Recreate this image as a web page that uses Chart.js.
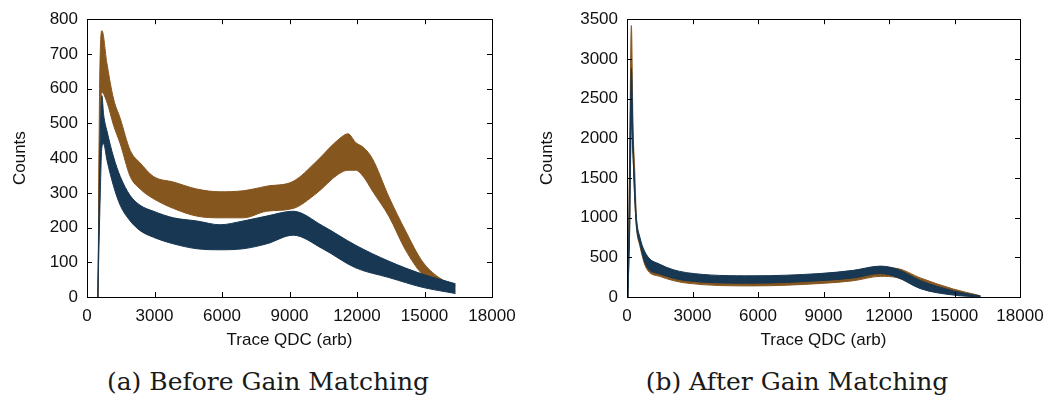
<!DOCTYPE html>
<html>
<head>
<meta charset="utf-8">
<script src="https://cdn.jsdelivr.net/npm/chart.js@4/dist/chart.umd.min.js"></script>
<style>
  body { margin: 0; background: #fff; width: 1055px; height: 404px; position: relative; overflow: hidden; }
  .box { position: absolute; top: 0; height: 360px; }
  .cap { position: absolute; top: 367px; font-family: "DejaVu Serif", serif; font-size: 25px; color: #1a1a1a; white-space: nowrap; transform: translateX(-50%); }
</style>
</head>
<body>
<div class="box" style="left:0;width:527px"><canvas id="before"></canvas></div>
<div class="box" style="left:527px;width:528px"><canvas id="after"></canvas></div>
<div class="cap" style="left:268px">(a) Before Gain Matching</div>
<div class="cap" style="left:797px">(b) After Gain Matching</div>
<script>
// band envelopes (upper / lower edge of the noise)
var beforeBrownX = [490, 560, 665, 887, 1182, 1478, 1921, 2365, 2956, 3843, 4877, 5912, 6947, 7981, 9164, 10170, 11200, 11600, 11940, 12300, 12680, 13420, 14160, 14900, 15640, 16380];
var beforeBrownHi = [0, 600, 767, 672, 570, 514, 422, 386, 347, 331, 311, 303, 306, 319, 333, 389, 455, 470, 445, 430, 399, 288, 190, 103, 56, 33];
var beforeBrownLo = [0, 450, 589, 561, 494, 441, 347, 311, 283, 255, 233, 228, 228, 247, 255, 297, 355, 365, 365, 345, 306, 232, 135, 66, 38, 15];

var beforeNavyX = [480, 591, 660, 739, 887, 1182, 1478, 1921, 2365, 2956, 3843, 4877, 5912, 6947, 7981, 9164, 10470, 11940, 13420, 14900, 16380];
var beforeNavyHi = [0, 470, 580, 525, 478, 403, 347, 292, 264, 247, 228, 219, 208, 219, 233, 247, 205, 149, 103, 66, 38];
var beforeNavyLo = [0, 300, 430, 441, 394, 319, 264, 219, 191, 172, 153, 139, 136, 139, 153, 178, 139, 84, 56, 28, 10];

var afterX = [40, 120, 200, 275, 353, 430, 583, 890, 1500, 2726, 5770, 8845, 10370, 11600, 12360, 13440, 14950, 16190];
var afterNavyHi = [0, 1500, 2880, 2000, 1380, 1000, 760, 534, 413, 307, 267, 296, 336, 389, 352, 206, 77, 12];
var afterNavyLo = [0, 800, 2200, 1800, 1250, 900, 680, 389, 291, 206, 174, 206, 240, 296, 250, 105, 24, 0];
var afterBrownHi = [0, 1800, 3420, 2150, 1600, 1000, 740, 510, 395, 290, 252, 280, 320, 370, 360, 240, 100, 16];
var afterBrownLo = [0, 900, 2300, 1800, 1250, 880, 650, 360, 260, 175, 140, 170, 205, 260, 245, 130, 40, 0];

var xTicks = [0, 3000, 6000, 9000, 12000, 15000, 18000];
var BROWN = "#86561f";
var NAVY = "#173752";

function pts(xs, ys) {
  return xs.map((x, i) => ({ x: x, y: ys[i] }));
}

function band(xs, hi, lo, color) {
  return [
    { data: pts(xs, lo), borderColor: color, borderWidth: 1, pointRadius: 0, fill: false, cubicInterpolationMode: "monotone" },
    { data: pts(xs, hi), borderColor: color, borderWidth: 1, pointRadius: 0, fill: "-1", backgroundColor: color, cubicInterpolationMode: "monotone" }
  ];
}

// gnuplot style frame with inward ticks on every side
var frame = {
  id: "frame",
  afterDraw(chart) {
    var ctx = chart.ctx, a = chart.chartArea, L = 5;
    ctx.save();
    ctx.strokeStyle = "#000";
    ctx.lineWidth = 1;
    ctx.beginPath();
    chart.scales.x.ticks.forEach((t, i) => {
      var px = Math.round(chart.scales.x.getPixelForTick(i)) + 0.5;
      ctx.moveTo(px, a.bottom); ctx.lineTo(px, a.bottom - L);
      ctx.moveTo(px, a.top); ctx.lineTo(px, a.top + L);
    });
    chart.scales.y.ticks.forEach((t, i) => {
      var py = Math.round(chart.scales.y.getPixelForTick(i)) + 0.5;
      ctx.moveTo(a.left, py); ctx.lineTo(a.left + L, py);
      ctx.moveTo(a.right, py); ctx.lineTo(a.right - L, py);
    });
    ctx.stroke();
    ctx.strokeRect(Math.round(a.left) + 0.5, Math.round(a.top) + 0.5, Math.round(a.right - a.left), Math.round(a.bottom - a.top));
    ctx.restore();
  }
};

function makeChart(id, datasets, yMax, yStep, yWidth) {
  var font = { family: "'Liberation Sans', Arial, sans-serif", size: 17 };
  return new Chart(document.getElementById(id), {
    type: "line",
    data: { datasets: datasets },
    options: {
      responsive: false,
      animation: false,
      layout: { padding: { top: 9, right: 35, bottom: 8, left: 0 } },
      plugins: { legend: { display: false }, tooltip: { enabled: false } },
      scales: {
        x: {
          type: "linear", min: 0, max: 18000,
          afterBuildTicks: s => { s.ticks = xTicks.map(v => ({ value: v })); },
          afterFit: s => { s.height = 55; },
          grid: { display: false, drawTicks: false }, border: { display: false },
          ticks: { color: "#111", font: font, padding: 9, maxRotation: 0, autoSkip: false, callback: v => String(v) },
          title: { display: true, text: "Trace QDC (arb)", color: "#111", font: font, padding: { top: 0, bottom: 1 } }
        },
        y: {
          min: 0, max: yMax,
          afterFit: s => { s.width = yWidth; },
          grid: { display: false, drawTicks: false }, border: { display: false },
          ticks: { stepSize: yStep, color: "#111", font: font, padding: 9, callback: v => String(v) },
          title: { display: true, text: "Counts", color: "#111", font: font, padding: { top: 10, bottom: 0 } }
        }
      }
    },
    plugins: [frame]
  });
}

var c1 = document.getElementById("before"); c1.width = 527; c1.height = 360;
var c2 = document.getElementById("after"); c2.width = 528; c2.height = 360;

makeChart("before",
  band(beforeNavyX, beforeNavyHi, beforeNavyLo, NAVY).concat(band(beforeBrownX, beforeBrownHi, beforeBrownLo, BROWN)),
  800, 100, 87);

makeChart("after",
  band(afterX, afterNavyHi, afterNavyLo, NAVY).concat(band(afterX, afterBrownHi, afterBrownLo, BROWN)),
  3500, 500, 100);
</script>
</body>
</html>
